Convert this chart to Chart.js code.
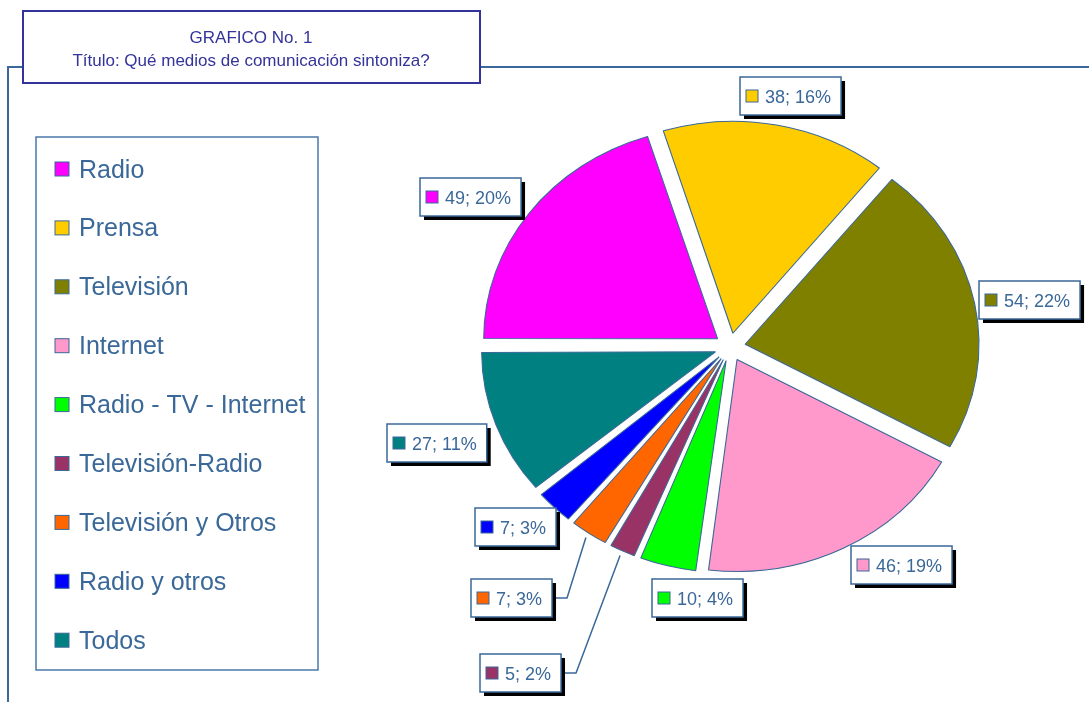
<!DOCTYPE html>
<html>
<head>
<meta charset="utf-8">
<title>GRAFICO No. 1</title>
<script src="https://cdn.jsdelivr.net/npm/chart.js@4/dist/chart.umd.min.js"></script>
<style>
  html, body { margin: 0; padding: 0; background: #fff; }
  canvas { display: block; }
</style>
</head>
<body>
<canvas id="medios" width="1089" height="702"></canvas>
<script>
// Qué medios de comunicación sintoniza?
const categorias = ['Radio', 'Prensa', 'Televisión', 'Internet', 'Radio - TV - Internet',
  'Televisión-Radio', 'Televisión y Otros', 'Radio y otros', 'Todos'];
const respuestas = [49, 38, 54, 46, 10, 5, 7, 7, 27];
const colores = ['#ff00ff', '#ffcc00', '#808000', '#ff99cc', '#00ff00',
  '#993366', '#ff6600', '#0000ff', '#008080'];

// where each value box sits relative to the rim of its slice
const etiquetaDesvio = [[-59, -16], [14, -29], [55, -3], [58, 17], [30, 32],
  [-102, 122], [-77, 65], [-39, 20], [-59, 19]];
const conGuia = [false, false, false, false, false, true, true, false, false];

const AZUL = '#3a6898';
const TITULO = '#333399';
const ESTIRA_X = 1.103;   // the plot area is wider than tall
const RADIO = 212;
const SEPARA = 14;        // px each slice is pulled out
const FUENTE = '"Liberation Sans", Arial, sans-serif';

const total = respuestas.reduce((a, b) => a + b, 0);

function marco(ctx) {
  ctx.save();
  ctx.fillStyle = '#fff';
  ctx.fillRect(0, 0, 1089, 702);
  ctx.strokeStyle = AZUL;
  ctx.lineWidth = 2;
  ctx.beginPath();
  ctx.moveTo(8, 702);
  ctx.lineTo(8, 67);
  ctx.lineTo(1089, 67);
  ctx.stroke();

  // title box
  ctx.fillStyle = '#fff';
  ctx.fillRect(23, 11, 457, 72);
  ctx.strokeStyle = TITULO;
  ctx.lineWidth = 2;
  ctx.strokeRect(23, 11, 457, 72);
  ctx.fillStyle = TITULO;
  ctx.font = '17px ' + FUENTE;
  ctx.textAlign = 'center';
  ctx.textBaseline = 'alphabetic';
  ctx.fillText('GRAFICO No. 1', 251, 43);
  ctx.fillText('Título: Qué medios de comunicación sintoniza?', 251, 66);
  ctx.restore();
}

function leyenda(ctx) {
  ctx.save();
  ctx.strokeStyle = '#4a78aa';
  ctx.lineWidth = 1.5;
  ctx.strokeRect(36, 137, 282, 533);
  ctx.font = '25px ' + FUENTE;
  ctx.textAlign = 'left';
  ctx.textBaseline = 'alphabetic';
  categorias.forEach((cat, i) => {
    const y = 169 + i * 58.9;
    ctx.fillStyle = colores[i];
    ctx.fillRect(55, y - 7, 14, 14);
    ctx.strokeStyle = AZUL;
    ctx.lineWidth = 1;
    ctx.strokeRect(55, y - 7, 14, 14);
    ctx.fillStyle = AZUL;
    ctx.fillText(cat, 79, y + 8.5);
  });
  ctx.restore();
}

const elipse = {
  id: 'elipse',
  beforeDraw(chart) {
    marco(chart.ctx);
  },
  beforeDatasetsDraw(chart) {
    const arcs = chart.getDatasetMeta(0).data;
    // Chart.js grows narrow slices by the offset; keep every rim on the same radius
    arcs.forEach(arc => {
      const circ = arc.endAngle - arc.startAngle;
      const fix = 1 - Math.sin(Math.min(Math.PI, circ));
      arc.outerRadius = RADIO - SEPARA * fix;
    });
    const ctx = chart.ctx;
    ctx.save();
    ctx.translate(arcs[0].x, arcs[0].y);
    ctx.scale(ESTIRA_X, 1);
    ctx.translate(-arcs[0].x, -arcs[0].y);
  },
  afterDatasetsDraw(chart) {
    const ctx = chart.ctx;
    ctx.restore();

    const cajas = chart.getDatasetMeta(0).data.map((arc, i) => {
      const { x, y, startAngle, endAngle } = arc;
      const mid = (startAngle + endAngle) / 2;
      const r = RADIO + SEPARA;
      const bx = x + Math.cos(mid) * r * ESTIRA_X;
      const by = y + Math.sin(mid) * r;
      ctx.font = '18px ' + FUENTE;
      const txt = respuestas[i] + '; ' + Math.round(respuestas[i] / total * 100) + '%';
      const w = 6 + 12 + 7 + ctx.measureText(txt).width + 10;
      const h = 38;
      const cx = bx + etiquetaDesvio[i][0];
      const cy = by + etiquetaDesvio[i][1];
      return { i, txt, w, h, left: Math.round(cx - w / 2), top: Math.round(cy - h / 2),
        gx: x + Math.cos(mid) * (r + 5) * ESTIRA_X, gy: y + Math.sin(mid) * (r + 5) };
    });

    // leader lines for the thin slices
    ctx.save();
    ctx.strokeStyle = AZUL;
    ctx.lineWidth = 1.5;
    cajas.forEach(c => {
      if (!conGuia[c.i]) return;
      const right = c.left + c.w;
      const my = c.top + c.h / 2;
      ctx.beginPath();
      ctx.moveTo(c.gx, c.gy);
      ctx.lineTo(right + 15, my);
      ctx.lineTo(right, my);
      ctx.stroke();
    });
    ctx.restore();

    ctx.save();
    ctx.font = '18px ' + FUENTE;
    ctx.textAlign = 'left';
    ctx.textBaseline = 'alphabetic';
    cajas.forEach(c => {
      ctx.fillStyle = '#000';
      ctx.fillRect(c.left + 4, c.top + 4, c.w, c.h);
      ctx.fillStyle = '#fff';
      ctx.fillRect(c.left, c.top, c.w, c.h);
      ctx.strokeStyle = AZUL;
      ctx.lineWidth = 1.5;
      ctx.strokeRect(c.left, c.top, c.w, c.h);
      const sy = c.top + c.h / 2 - 6;
      ctx.fillStyle = colores[c.i];
      ctx.fillRect(c.left + 6, sy, 12, 12);
      ctx.lineWidth = 1;
      ctx.strokeRect(c.left + 6, sy, 12, 12);
      ctx.fillStyle = AZUL;
      ctx.fillText(c.txt, c.left + 25, c.top + c.h / 2 + 7);
    });
    ctx.restore();
  },
  afterDraw(chart) {
    leyenda(chart.ctx);
  }
};

new Chart(document.getElementById('medios'), {
  type: 'pie',
  data: {
    labels: categorias,
    datasets: [{
      data: respuestas,
      backgroundColor: colores,
      borderColor: AZUL,
      borderWidth: 1,
      offset: SEPARA * 4   // ArcElement moves by offset / 4
    }]
  },
  options: {
    responsive: false,
    animation: false,
    events: [],
    rotation: -90,
    radius: RADIO,
    layout: { padding: { left: 471, right: 100, top: 90, bottom: 98 } },
    plugins: {
      legend: { display: false },
      tooltip: { enabled: false }
    }
  },
  plugins: [elipse]
});
</script>
</body>
</html>
